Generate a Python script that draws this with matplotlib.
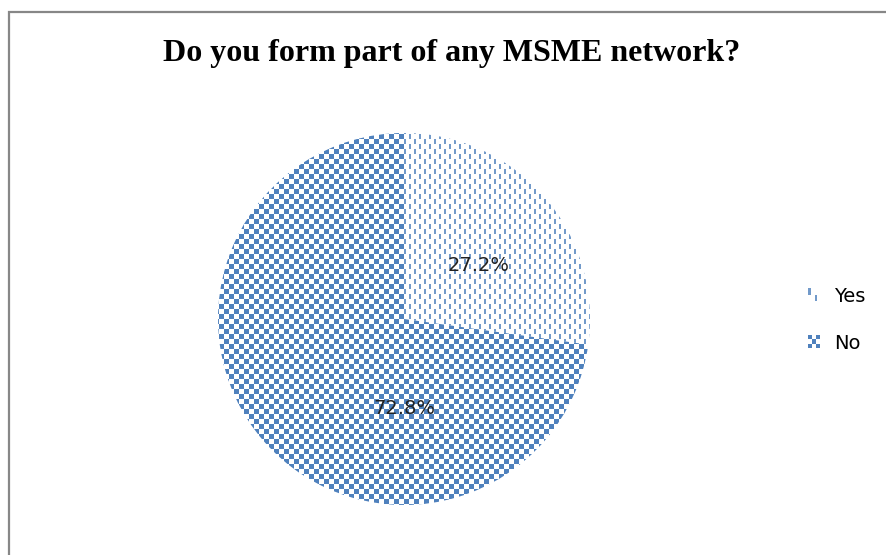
import numpy as np
import matplotlib
matplotlib.use("Agg")
import matplotlib.pyplot as plt
from matplotlib.patches import Patch, Rectangle
from matplotlib.legend_handler import HandlerBase
from matplotlib.image import BboxImage
from matplotlib.transforms import Bbox, TransformedBbox

# data
labels = ["Yes", "No"]
shares = [27.2, 72.8]
pct_text = ["27.2%", "72.8%"]

blue = np.array([79, 129, 189]) / 255.0
W, H = 886, 555


def checker_tex(n, m, cell=5):
    yy, xx = np.mgrid[0:n, 0:m]
    img = np.ones((n, m, 3))
    img[(xx // cell + yy // cell) % 2 == 0] = blue
    return img


def dash_tex(n, m, cell=5):
    yy, xx = np.mgrid[0:n, 0:m]
    col = xx // cell
    dash = ((xx % cell) < 2) & (((yy + (col % 2) * cell) % (2 * cell)) < cell)
    img = np.ones((n, m, 3))
    img[dash] = blue * 0.8 + 0.2
    return img


class TextureHandler(HandlerBase):
    def __init__(self, img):
        super().__init__()
        self.img = img

    def create_artists(self, legend, orig_handle, xdescent, ydescent, width, height, fontsize, trans):
        bb = TransformedBbox(Bbox.from_bounds(-xdescent, -ydescent, width, height), trans)
        im = BboxImage(bb, interpolation="nearest")
        im.set_data(self.img)
        return [im]


fig = plt.figure(figsize=(W / 100, H / 100), dpi=100)

# chart border (gray frame running off the right/bottom edge)
fig.patches.append(Rectangle((9 / W, -0.1), 1.2, 1 - 12 / H + 0.1, transform=fig.transFigure,
                             fill=False, edgecolor="#878787", linewidth=1.6))

fig.text(452 / W, 1 - 53 / H, "Do you form part of any MSME network?",
         ha="center", va="center", fontsize=23, fontweight="bold", family="Liberation Serif")

# pie axes: centre at (404, 319) px, radius 186 px
half = 200
ax = fig.add_axes([(404 - half) / W, (H - 319 - half) / H, 2 * half / W, 2 * half / H])
lim = half / 186

wedges, _, autotexts = ax.pie(shares, startangle=90, counterclock=False, radius=1,
                              colors=["white", "white"], autopct="%1.1f%%",
                              wedgeprops=dict(linewidth=0),
                              textprops=dict(fontsize=14, family="DejaVu Sans", color="#222222"))

n = 2 * half
for w, img in zip(wedges, [dash_tex(n, n), checker_tex(n, n)]):
    im = ax.imshow(img, extent=(-lim, lim, -lim, lim), interpolation="nearest", zorder=2)
    im.set_clip_path(w)

ax.set_xlim(-lim, lim)
ax.set_ylim(-lim, lim)
ax.set_aspect("equal")
ax.axis("off")

# label placement as in the source
for t, pos, s in zip(autotexts, [(0.40, 0.29), (0.0, -0.48)], pct_text):
    t.set_position(pos)
    t.set_text(s)
    t.set_zorder(5)

h_yes = Patch(label=labels[0])
h_no = Patch(label=labels[1])
fig.legend(handles=[h_yes, h_no], loc="center left", bbox_to_anchor=(790 / W, 1 - 320 / H),
           frameon=False, prop=dict(family="DejaVu Sans", size=14),
           handlelength=0.6, handleheight=0.6, handletextpad=0.75, labelspacing=1.45,
           handler_map={h_yes: TextureHandler(dash_tex(9, 9, cell=5)),
                        h_no: TextureHandler(checker_tex(9, 9, cell=3))})

fig.savefig("out.png", dpi=100)
